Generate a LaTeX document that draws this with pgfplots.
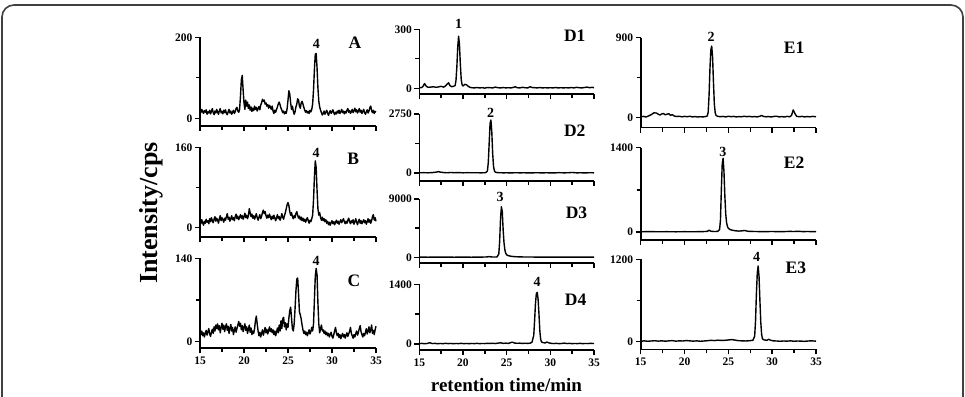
\documentclass[border=0pt]{standalone}
\usepackage{fontspec}
\setmainfont{Liberation Serif}
\usepackage{pgfplots}
\pgfplotsset{compat=1.18}
\pgfplotsset{
  chrom/.style={
    scale only axis, anchor=south west, clip=false,
    axis x line=bottom, axis y line=left, axis line style={-, line width=1.6pt},
    xmin=15, xmax=35, enlargelimits=false,
    xtick={15,20,25,30,35}, minor xtick={17.5,22.5,27.5,32.5},
    tick align=outside, major tick length=5pt, minor tick length=4pt,
    every tick/.style={black, line width=1.4pt},
    ticklabel style={font=\fontsize{11.5}{12}\selectfont\bfseries},
    /pgf/number format/assume math mode=true,
    /pgf/number format/1000 sep={},
    scaled y ticks=false,
    yticklabel style={xshift=1pt},
  },
  sig/.style={black, line width=1.4pt, line join=round, mark=none},
}
\tikzset{
  peak/.style={font=\fontsize{14}{14}\selectfont\bfseries, inner sep=0pt},
  panel/.style={font=\fontsize{17.5}{17.5}\selectfont\bfseries, inner sep=0pt},
}
\begin{document}
\begin{tikzpicture}[x=1pt,y=1pt]
\useasboundingbox (0,0) rectangle (965,396);
\draw[line width=1.6pt, black!75, rounded corners=12pt] (2,-40) rectangle (963,391);

% ---------- A ----------
\begin{axis}[chrom, at={(200pt,270pt)}, width=176pt, height=88.7pt,
  ymin=-19, ymax=200, ytick={0,200}, minor ytick={100}, xticklabels={}]
\addplot[sig] coordinates {
(15.0,20)(15.1,14)(15.2,22)(15.3,17)(15.4,12)(15.5,19)(15.6,15)(15.7,21)(15.8,10)(15.9,16)
(16.0,13)(16.1,20)(16.2,11)(16.3,17)(16.4,24)(16.5,14)(16.6,9)(16.7,18)(16.8,13)(16.9,22)
(17.0,15)(17.1,10)(17.2,19)(17.3,24)(17.4,13)(17.5,17)(17.6,11)(17.7,20)(17.8,14)(17.9,21)
(18.0,12)(18.1,9)(18.2,16)(18.3,22)(18.4,13)(18.5,18)(18.6,10)(18.7,15)(18.8,20)(18.9,12)
(19.0,16)(19.1,24)(19.2,27)(19.3,18)(19.4,15)(19.5,22)(19.6,55)(19.7,95)(19.8,106)(19.9,70)
(20.0,38)(20.1,22)(20.2,45)(20.3,30)(20.4,40)(20.5,24)(20.6,33)(20.7,20)(20.8,28)(20.9,17)
(21.0,25)(21.1,19)(21.2,30)(21.3,22)(21.4,27)(21.5,18)(21.6,24)(21.7,29)(21.8,21)(21.9,33)
(22.0,38)(22.1,47)(22.2,42)(22.3,45)(22.4,35)(22.5,38)(22.6,30)(22.7,34)(22.8,25)(22.9,32)
(23.0,28)(23.1,22)(23.2,30)(23.3,18)(23.4,12)(23.5,20)(23.6,15)(23.7,22)(23.8,28)(23.9,36)
(24.0,40)(24.1,33)(24.2,25)(24.3,20)(24.4,14)(24.5,18)(24.6,11)(24.7,16)(24.8,12)(24.9,24)
(25.0,45)(25.1,68)(25.2,60)(25.3,38)(25.4,22)(25.5,30)(25.6,18)(25.7,10)(25.8,16)(25.9,28)
(26.0,35)(26.1,48)(26.2,45)(26.3,30)(26.4,25)(26.5,38)(26.6,42)(26.7,35)(26.8,27)(26.9,20)
(27.0,15)(27.1,19)(27.2,13)(27.3,17)(27.4,12)(27.5,20)(27.6,16)(27.7,22)(27.8,35)(27.9,70)
(28.0,120)(28.1,158)(28.2,160)(28.3,125)(28.4,75)(28.5,42)(28.6,28)(28.7,20)(28.8,14)(28.9,8)
(29.0,12)(29.1,18)(29.2,10)(29.3,15)(29.4,20)(29.5,13)(29.6,7)(29.7,14)(29.8,19)(29.9,12)
(30.0,16)(30.1,21)(30.2,14)(30.3,9)(30.4,15)(30.5,11)(30.6,18)(30.7,13)(30.8,20)(30.9,12)
(31.0,16)(31.1,22)(31.2,14)(31.3,18)(31.4,11)(31.5,17)(31.6,13)(31.7,20)(31.8,24)(31.9,15)
(32.0,19)(32.1,12)(32.2,17)(32.3,22)(32.4,14)(32.5,19)(32.6,25)(32.7,16)(32.8,21)(32.9,13)
(33.0,18)(33.1,24)(33.2,15)(33.3,20)(33.4,12)(33.5,17)(33.6,22)(33.7,14)(33.8,10)(33.9,16)
(34.0,21)(34.1,13)(34.2,18)(34.3,26)(34.4,30)(34.5,19)(34.6,14)(34.7,20)(34.8,12)(34.9,17)(35.0,15)
};
\node[peak] at (axis cs:28.23,183) {4};
\node[panel] at (axis cs:32.6,186) {A};
\end{axis}

% ---------- B ----------
\begin{axis}[chrom, at={(200pt,158.7pt)}, width=176pt, height=90pt,
  ymin=-19, ymax=160, ytick={0,160}, minor ytick={80}, xticklabels={}]
\addplot[sig] coordinates {
(15.0,12)(15.1,8)(15.2,16)(15.3,10)(15.4,5)(15.5,13)(15.6,9)(15.7,17)(15.8,11)(15.9,14)
(16.0,8)(16.1,18)(16.2,12)(16.3,20)(16.4,14)(16.5,10)(16.6,17)(16.7,22)(16.8,13)(16.9,19)
(17.0,15)(17.1,9)(17.2,18)(17.3,24)(17.4,14)(17.5,20)(17.6,16)(17.7,11)(17.8,19)(17.9,15)
(18.0,22)(18.1,28)(18.2,17)(18.3,21)(18.4,13)(18.5,18)(18.6,24)(18.7,16)(18.8,20)(18.9,14)
(19.0,22)(19.1,27)(19.2,18)(19.3,23)(19.4,16)(19.5,21)(19.6,26)(19.7,19)(19.8,24)(19.9,17)
(20.0,22)(20.1,29)(20.2,20)(20.3,25)(20.4,18)(20.5,24)(20.6,38)(20.7,30)(20.8,22)(20.9,27)
(21.0,19)(21.1,24)(21.2,17)(21.3,22)(21.4,28)(21.5,20)(21.6,15)(21.7,21)(21.8,26)(21.9,18)
(22.0,23)(22.1,30)(22.2,35)(22.3,28)(22.4,32)(22.5,24)(22.6,19)(22.7,25)(22.8,20)(22.9,27)
(23.0,21)(23.1,16)(23.2,23)(23.3,18)(23.4,25)(23.5,19)(23.6,14)(23.7,20)(23.8,26)(23.9,18)
(24.0,22)(24.1,15)(24.2,20)(24.3,28)(24.4,21)(24.5,17)(24.6,24)(24.7,30)(24.8,38)(24.9,46)
(25.0,50)(25.1,44)(25.2,32)(25.3,25)(25.4,30)(25.5,22)(25.6,18)(25.7,24)(25.8,20)(25.9,28)
(26.0,32)(26.1,25)(26.2,19)(26.3,23)(26.4,16)(26.5,21)(26.6,14)(26.7,19)(26.8,13)(26.9,17)
(27.0,11)(27.1,16)(27.2,20)(27.3,14)(27.4,9)(27.5,15)(27.6,12)(27.7,18)(27.8,25)(27.9,55)
(28.0,100)(28.1,133)(28.2,120)(28.3,75)(28.4,38)(28.5,25)(28.6,30)(28.7,20)(28.8,15)(28.9,21)
(29.0,14)(29.1,18)(29.2,12)(29.3,16)(29.4,9)(29.5,13)(29.6,6)(29.7,11)(29.8,5)(29.9,10)
(30.0,14)(30.1,8)(30.2,12)(30.3,6)(30.4,11)(30.5,15)(30.6,9)(30.7,13)(30.8,7)(30.9,12)
(31.0,16)(31.1,10)(31.2,14)(31.3,18)(31.4,12)(31.5,8)(31.6,13)(31.7,9)(31.8,15)(31.9,19)
(32.0,12)(32.1,8)(32.2,14)(32.3,10)(32.4,16)(32.5,7)(32.6,12)(32.7,18)(32.8,11)(32.9,6)
(33.0,13)(33.1,17)(33.2,9)(33.3,14)(33.4,8)(33.5,12)(33.6,16)(33.7,10)(33.8,14)(33.9,7)
(34.0,12)(34.1,18)(34.2,11)(34.3,16)(34.4,9)(34.5,14)(34.6,22)(34.7,26)(34.8,15)(34.9,20)(35.0,13)
};
\node[peak] at (axis cs:28.2,149) {4};
\node[panel] at (axis cs:32.4,137) {B};
\end{axis}

% ---------- C ----------
\begin{axis}[chrom, at={(200pt,47.7pt)}, width=176pt, height=90pt,
  ymin=-11, ymax=140, ytick={0,140}, minor ytick={70}]
\addplot[sig] coordinates {
(15.0,16)(15.1,12)(15.2,18)(15.3,10)(15.4,15)(15.5,8)(15.6,14)(15.7,19)(15.8,11)(15.9,17)
(16.0,22)(16.1,13)(16.2,9)(16.3,16)(16.4,21)(16.5,14)(16.6,25)(16.7,18)(16.8,28)(16.9,22)
(17.0,30)(17.1,20)(17.2,27)(17.3,15)(17.4,24)(17.5,31)(17.6,21)(17.7,28)(17.8,17)(17.9,25)
(18.0,30)(18.1,19)(18.2,26)(18.3,14)(18.4,22)(18.5,29)(18.6,18)(18.7,24)(18.8,12)(18.9,19)
(19.0,25)(19.1,16)(19.2,22)(19.3,28)(19.4,34)(19.5,26)(19.6,31)(19.7,20)(19.8,27)(19.9,17)
(20.0,24)(20.1,30)(20.2,19)(20.3,25)(20.4,14)(20.5,21)(20.6,28)(20.7,16)(20.8,23)(20.9,12)
(21.0,18)(21.1,14)(21.2,22)(21.3,35)(21.4,43)(21.5,30)(21.6,18)(21.7,10)(21.8,16)(21.9,8)
(22.0,14)(22.1,20)(22.2,11)(22.3,17)(22.4,24)(22.5,15)(22.6,21)(22.7,13)(22.8,19)(22.9,25)
(23.0,17)(23.1,22)(23.2,15)(23.3,20)(23.4,12)(23.5,18)(23.6,10)(23.7,16)(23.8,23)(23.9,15)
(24.0,28)(24.1,18)(24.2,35)(24.3,22)(24.4,38)(24.5,41)(24.6,25)(24.7,32)(24.8,20)(24.9,30)
(25.0,24)(25.1,40)(25.2,52)(25.3,58)(25.4,40)(25.5,22)(25.6,18)(25.7,30)(25.8,55)(25.9,85)
(26.0,105)(26.1,107)(26.2,80)(26.3,50)(26.4,45)(26.5,38)(26.6,28)(26.7,20)(26.8,14)(26.9,18)
(27.0,12)(27.1,16)(27.2,10)(27.3,15)(27.4,20)(27.5,13)(27.6,17)(27.7,24)(27.8,18)(27.9,30)
(28.0,70)(28.1,110)(28.2,123)(28.3,112)(28.4,65)(28.5,30)(28.6,15)(28.7,22)(28.8,28)(28.9,18)
(29.0,20)(29.1,14)(29.2,18)(29.3,12)(29.4,16)(29.5,10)(29.6,14)(29.7,8)(29.8,12)(29.9,16)
(30.0,9)(30.1,6)(30.2,12)(30.3,18)(30.4,24)(30.5,15)(30.6,10)(30.7,14)(30.8,7)(30.9,12)
(31.0,5)(31.1,10)(31.2,14)(31.3,8)(31.4,12)(31.5,6)(31.6,11)(31.7,15)(31.8,9)(31.9,13)
(32.0,18)(32.1,24)(32.2,14)(32.3,10)(32.4,6)(32.5,12)(32.6,8)(32.7,14)(32.8,18)(32.9,11)
(33.0,16)(33.1,22)(33.2,27)(33.3,17)(33.4,12)(33.5,8)(33.6,14)(33.7,10)(33.8,16)(33.9,22)
(34.0,13)(34.1,18)(34.2,25)(34.3,15)(34.4,20)(34.5,28)(34.6,14)(34.7,19)(34.8,12)(34.9,20)(35.0,26)
};
\node[peak] at (axis cs:28.2,135.5) {4};
\node[panel] at (axis cs:32.5,102.7) {C};
\end{axis}

% ---------- D1 ----------
\begin{axis}[chrom, at={(419.3pt,301.7pt)}, width=174.7pt, height=65pt,
  ymin=-30.5, ymax=300, ytick={0,300}, minor ytick={150}, xticklabels={}]
\addplot[sig] coordinates {
(15.0,4)(15.2,3)(15.4,8)(15.6,24)(15.8,10)(16.0,5)(16.3,6)(16.6,8)(16.9,5)(17.2,7)
(17.5,10)(17.8,6)(18.0,12)(18.2,22)(18.35,28)(18.5,14)(18.7,8)(18.9,10)(19.1,14)(19.2,40)
(19.3,110)(19.4,210)(19.5,265)(19.6,220)(19.7,120)(19.8,45)(19.9,18)(20.0,12)(20.2,20)(20.4,18)
(20.6,10)(20.8,5)(21.0,3)(21.3,2)(21.6,4)(21.9,2)(22.2,3)(22.5,1)(22.8,4)(23.1,3)
(23.4,2)(23.7,6)(24.0,3)(24.3,2)(24.6,4)(24.9,2)(25.2,3)(25.5,2)(25.8,5)(26.0,8)
(26.2,3)(26.5,2)(26.8,5)(27.1,3)(27.4,2)(27.7,8)(27.9,4)(28.2,3)(28.5,2)(28.8,4)
(29.1,2)(29.4,3)(29.7,2)(30.0,3)(30.3,2)(30.6,4)(30.9,2)(31.2,3)(31.5,2)(31.8,3)
(32.1,2)(32.4,4)(32.7,2)(33.0,5)(33.3,3)(33.6,2)(33.9,4)(34.2,6)(34.5,3)(34.8,5)(35.0,3)
};
\node[peak] at (axis cs:19.51,327) {1};
\node[panel] at (axis cs:32.8,266) {D1};
\end{axis}

% ---------- D2 ----------
\begin{axis}[chrom, at={(419.3pt,215pt)}, width=174.7pt, height=67pt,
  ymin=-373, ymax=2750, ytick={0,2750}, minor ytick={1375}, xticklabels={}]
\addplot[sig] coordinates {
(15.0,10)(15.5,15)(16.0,8)(16.5,20)(17.0,45)(17.2,65)(17.4,40)(17.8,20)(18.2,10)(18.6,25)
(19.0,12)(19.5,20)(20.0,8)(20.5,15)(21.0,10)(21.5,12)(22.0,8)(22.4,10)(22.6,15)(22.8,100)
(22.9,500)(23.0,1400)(23.1,2300)(23.2,2470)(23.3,1900)(23.4,900)(23.5,300)(23.6,100)(23.7,40)(23.9,20)
(24.2,12)(24.6,8)(25.0,10)(25.5,6)(26.0,12)(26.5,8)(27.0,10)(27.5,6)(28.0,8)(28.5,12)
(29.0,6)(29.5,10)(30.0,8)(30.5,6)(31.0,15)(31.5,8)(32.0,10)(32.5,25)(33.0,8)(33.5,10)
(34.0,6)(34.5,12)(35.0,8)
};
\node[peak] at (axis cs:23.17,2811) {2};
\node[panel] at (axis cs:32.8,1958) {D2};
\end{axis}

% ---------- D3 ----------
\begin{axis}[chrom, at={(419.3pt,132.7pt)}, width=174.7pt, height=64.3pt,
  ymin=-926, ymax=9000, ytick={0,9000}, minor ytick={4500}, xticklabels={}]
\addplot[sig] coordinates {
(15.0,20)(16.0,15)(17.0,25)(18.0,20)(19.0,15)(20.0,20)(21.0,15)(22.0,25)(22.8,60)(23.0,110)
(23.2,60)(23.6,40)(23.9,60)(24.1,500)(24.2,2500)(24.3,6000)(24.4,7800)(24.5,7000)(24.6,4200)(24.7,2200)
(24.8,1100)(24.9,600)(25.0,380)(25.2,250)(25.5,160)(25.8,110)(26.2,80)(26.6,60)(27.0,50)(28.0,40)
(29.0,30)(30.0,30)(31.0,25)(32.0,30)(33.0,25)(34.0,25)(35.0,20)
};
\node[peak] at (axis cs:24.24,9355) {3};
\node[panel] at (axis cs:33.0,6885) {D3};
\end{axis}

% ---------- D4 ----------
\begin{axis}[chrom, at={(419.3pt,46pt)}, width=174.7pt, height=65.7pt,
  ymin=-141, ymax=1400, ytick={0,1400}, minor ytick={700}]
\addplot[sig] coordinates {
(15.0,8)(15.3,14)(15.6,6)(15.9,12)(16.2,30)(16.5,10)(16.8,14)(17.1,6)(17.4,12)(17.7,8)
(18.0,15)(18.3,9)(18.6,13)(18.9,6)(19.2,12)(19.5,9)(19.8,15)(20.1,8)(20.4,12)(20.7,7)
(21.0,13)(21.3,9)(21.6,14)(21.9,8)(22.2,12)(22.5,10)(22.8,16)(23.1,12)(23.4,18)(23.7,10)
(24.0,20)(24.3,28)(24.6,15)(24.9,20)(25.2,14)(25.5,35)(25.7,42)(25.9,22)(26.2,16)(26.5,20)
(26.8,12)(27.1,18)(27.4,14)(27.7,20)(27.9,40)(28.1,200)(28.2,550)(28.3,950)(28.4,1180)(28.5,1212)
(28.6,1050)(28.7,700)(28.8,300)(28.9,100)(29.0,45)(29.2,30)(29.4,25)(29.6,45)(29.8,28)(30.1,15)
(30.4,10)(30.7,15)(31.0,8)(31.3,12)(31.6,20)(31.9,10)(32.2,14)(32.5,8)(32.8,12)(33.1,9)
(33.4,15)(33.7,8)(34.0,12)(34.3,10)(34.6,16)(35.0,10)
};
\node[peak] at (axis cs:28.5,1461) {4};
\node[panel] at (axis cs:32.9,1032) {D4};
\end{axis}

% ---------- E1 ----------
\begin{axis}[chrom, at={(640.7pt,268.3pt)}, width=175.3pt, height=90pt,
  ymin=-118, ymax=900, ytick={0,900}, minor ytick={450}, xticklabels={}]
\addplot[sig] coordinates {
(15.0,5)(15.3,10)(15.6,3)(15.9,15)(16.2,30)(16.5,50)(16.8,48)(17.0,35)(17.2,25)(17.4,38)
(17.6,42)(17.8,28)(18.0,35)(18.2,40)(18.4,22)(18.6,30)(18.8,15)(19.1,8)(19.4,12)(19.7,5)
(20.0,10)(20.3,6)(20.6,12)(20.9,4)(21.2,8)(21.5,3)(21.8,6)(22.1,4)(22.4,8)(22.6,15)
(22.7,60)(22.8,250)(22.9,550)(23.0,760)(23.1,806)(23.2,680)(23.3,400)(23.4,150)(23.5,50)(23.6,20)
(23.8,10)(24.1,6)(24.4,10)(24.7,3)(25.0,12)(25.3,6)(25.6,10)(25.9,4)(26.2,8)(26.5,5)
(26.8,12)(27.1,6)(27.4,10)(27.7,5)(28.0,8)(28.3,4)(28.6,12)(28.8,20)(29.0,10)(29.3,5)
(29.6,8)(29.9,3)(30.2,10)(30.5,12)(30.8,4)(31.1,8)(31.4,3)(31.7,10)(32.0,5)(32.2,20)
(32.4,83)(32.6,40)(32.8,10)(33.1,6)(33.4,10)(33.7,4)(34.0,8)(34.3,5)(34.6,10)(35.0,6)
};
\node[peak] at (axis cs:23.02,911) {2};
\node[panel] at (axis cs:32.5,787) {E1};
\end{axis}

% ---------- E2 ----------
\begin{axis}[chrom, at={(640.7pt,156pt)}, width=175.3pt, height=92.3pt,
  ymin=-133, ymax=1400, ytick={0,1400}, minor ytick={700}, xticklabels={}]
\addplot[sig] coordinates {
(15.0,4)(16.0,6)(17.0,4)(18.0,5)(19.0,3)(20.0,5)(21.0,4)(22.0,6)(22.6,10)(22.8,30)
(23.0,12)(23.4,8)(23.8,10)(24.0,40)(24.1,200)(24.2,700)(24.3,1130)(24.4,1224)(24.5,1000)(24.6,600)
(24.7,300)(24.8,150)(24.9,90)(25.0,60)(25.2,40)(25.5,28)(25.8,20)(26.2,15)(26.6,20)(26.9,25)
(27.2,12)(27.6,10)(28.0,8)(29.0,6)(30.0,8)(31.0,5)(32.0,10)(32.5,8)(33.0,12)(33.5,6)
(34.0,8)(35.0,5)
};
\node[peak] at (axis cs:24.36,1334) {3};
\node[panel] at (axis cs:32.5,1158) {E2};
\end{axis}

% ---------- E3 ----------
\begin{axis}[chrom, at={(640.7pt,46.7pt)}, width=175.3pt, height=90pt,
  ymin=-111, ymax=1200, ytick={0,1200}, minor ytick={600}]
\addplot[sig] coordinates {
(15.0,5)(15.4,12)(15.8,6)(16.2,10)(16.6,14)(17.0,8)(17.4,13)(17.8,7)(18.2,12)(18.6,15)
(19.0,8)(19.4,12)(19.8,10)(20.2,16)(20.6,12)(21.0,8)(21.4,12)(21.8,6)(22.2,10)(22.6,14)
(23.0,20)(23.4,16)(23.8,22)(24.2,18)(24.6,20)(25.0,25)(25.4,30)(25.8,22)(26.2,14)(26.6,12)
(27.0,10)(27.4,14)(27.8,20)(28.0,80)(28.1,300)(28.2,700)(28.3,1000)(28.4,1102)(28.5,950)(28.6,600)
(28.7,280)(28.8,100)(28.9,40)(29.1,25)(29.4,20)(29.6,35)(29.8,22)(30.1,12)(30.5,10)(30.9,6)
(31.3,10)(31.7,8)(32.1,12)(32.5,6)(32.9,10)(33.3,8)(33.7,5)(34.1,10)(34.5,12)(35.0,8)
};
\node[peak] at (axis cs:28.23,1229) {4};
\node[panel] at (axis cs:32.7,1083) {E3};
\end{axis}

\node[font=\fontsize{19}{19}\selectfont\bfseries, anchor=base, inner sep=0pt] at (506.5,5) {retention time/min};
\node[font=\fontsize{26}{26}\selectfont\bfseries, rotate=90, anchor=base, inner sep=0pt] at (157,183) {Intensity/cps};
\end{tikzpicture}
\end{document}
